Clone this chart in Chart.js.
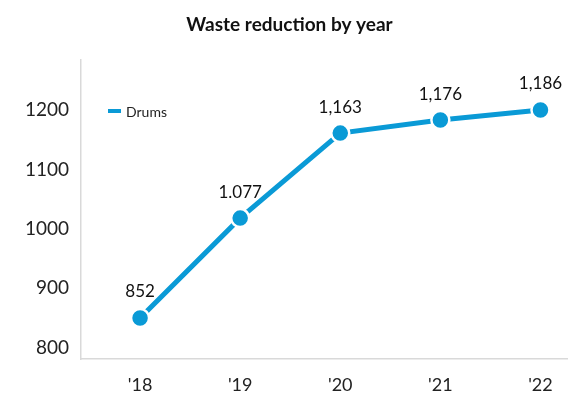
<!DOCTYPE html>
<html>
<head>
<meta charset="utf-8">
<script src="https://cdn.jsdelivr.net/npm/chart.js@4/dist/chart.umd.min.js"></script>
<style>
  html, body { margin: 0; padding: 0; background: #fff; overflow: hidden; }
  #wrap { width: 579px; height: 395px; position: relative; }
  #chart { display: block; }
</style>
</head>
<body>
<div id="wrap"><canvas id="chart"></canvas></div>
<script>
// ---- data ----
const titleText = 'Waste reduction by year';
const years = ["'18", "'19", "'20", "'21", "'22"];
const drums = [850, 1018, 1161, 1183, 1200];
const drumLabels = ['852', '1.077', '1,163', '1,176', '1,186'];
const yTicks = [800, 900, 1000, 1100, 1200];

const BLUE = '#0a9ad6';
const FONT = "Lato, 'Open Sans', sans-serif";

const titlePlugin = {
    id: 'titlePlugin',
    afterDraw(chart) {
        const ctx = chart.ctx;
        ctx.save();
        ctx.font = 'bold 19px ' + FONT;
        ctx.fillStyle = '#111';
        ctx.textAlign = 'center';
        ctx.textBaseline = 'middle';
        ctx.fillText(titleText, chart.width / 2, 25);
        ctx.restore();
    }
};

// value labels above each point
const pointLabels = {
    id: 'pointLabels',
    afterDatasetsDraw(chart) {
        const ctx = chart.ctx;
        const meta = chart.getDatasetMeta(0);
        ctx.save();
        ctx.font = '17px ' + FONT;
        ctx.fillStyle = '#111';
        ctx.textAlign = 'center';
        ctx.textBaseline = 'middle';
        meta.data.forEach((pt, i) => {
            ctx.fillText(drumLabels[i], pt.x, pt.y - 26);
        });
        ctx.restore();
    }
};

// small legend inside the plot area
const insideLegend = {
    id: 'insideLegend',
    afterDraw(chart) {
        const ctx = chart.ctx;
        const area = chart.chartArea;
        const x = area.left + 27;
        const y = 111;
        ctx.save();
        ctx.strokeStyle = BLUE;
        ctx.lineWidth = 4;
        ctx.beginPath();
        ctx.moveTo(x, y);
        ctx.lineTo(x + 13, y);
        ctx.stroke();
        ctx.font = '14px ' + FONT;
        ctx.fillStyle = '#222';
        ctx.textBaseline = 'middle';
        ctx.fillText(chart.data.datasets[0].label, x + 18, y + 1);
        ctx.restore();
    }
};

new Chart(document.getElementById('chart'), {
    type: 'line',
    data: {
        datasets: [{
            label: 'Drums',
            data: drums.map((v, i) => ({ x: i, y: v })),
            borderColor: BLUE,
            borderWidth: 5,
            pointRadius: 9,
            pointBorderWidth: 2.5,
            pointBackgroundColor: BLUE,
            pointBorderColor: '#fff',
            tension: 0,
        }]
    },
    options: {
        responsive: true,
        maintainAspectRatio: false,
        animation: false,
        layout: { padding: { top: 60, left: 0, right: 0, bottom: 0 } },
        plugins: {
            legend: { display: false },
            tooltip: { enabled: false },
            title: { display: false },
        },
        scales: {
            x: {
                type: 'linear',
                min: -0.59,
                max: 4.27,
                afterBuildTicks: (scale) => { scale.ticks = years.map((_, i) => ({ value: i })); },
                afterFit: (scale) => {
                    scale.height = 36;
                    scale.paddingLeft = 0;
                    scale.paddingRight = 0;
                },
                grid: { display: false, drawTicks: false },
                border: { display: true, color: '#d9d9d9', width: 1.5 },
                ticks: {
                    padding: 15,
                    color: '#222',
                    font: { family: FONT, size: 18 },
                    callback: (v) => years[v],
                    maxRotation: 0,
                },
            },
            y: {
                min: 781,
                max: 1284,
                afterBuildTicks: (scale) => { scale.ticks = yTicks.map(v => ({ value: v })); },
                afterFit: (scale) => {
                    scale.width = 81;
                    scale.paddingTop = 0;
                    scale.paddingBottom = 0;
                },
                grid: { display: false, drawTicks: false },
                border: { display: true, color: '#d9d9d9', width: 1.5 },
                ticks: {
                    padding: 12,
                    color: '#222',
                    font: { family: FONT, size: 19 },
                    callback: (v) => String(v),
                },
            },
        },
    },
    plugins: [titlePlugin, pointLabels, insideLegend],
});
</script>
</body>
</html>
